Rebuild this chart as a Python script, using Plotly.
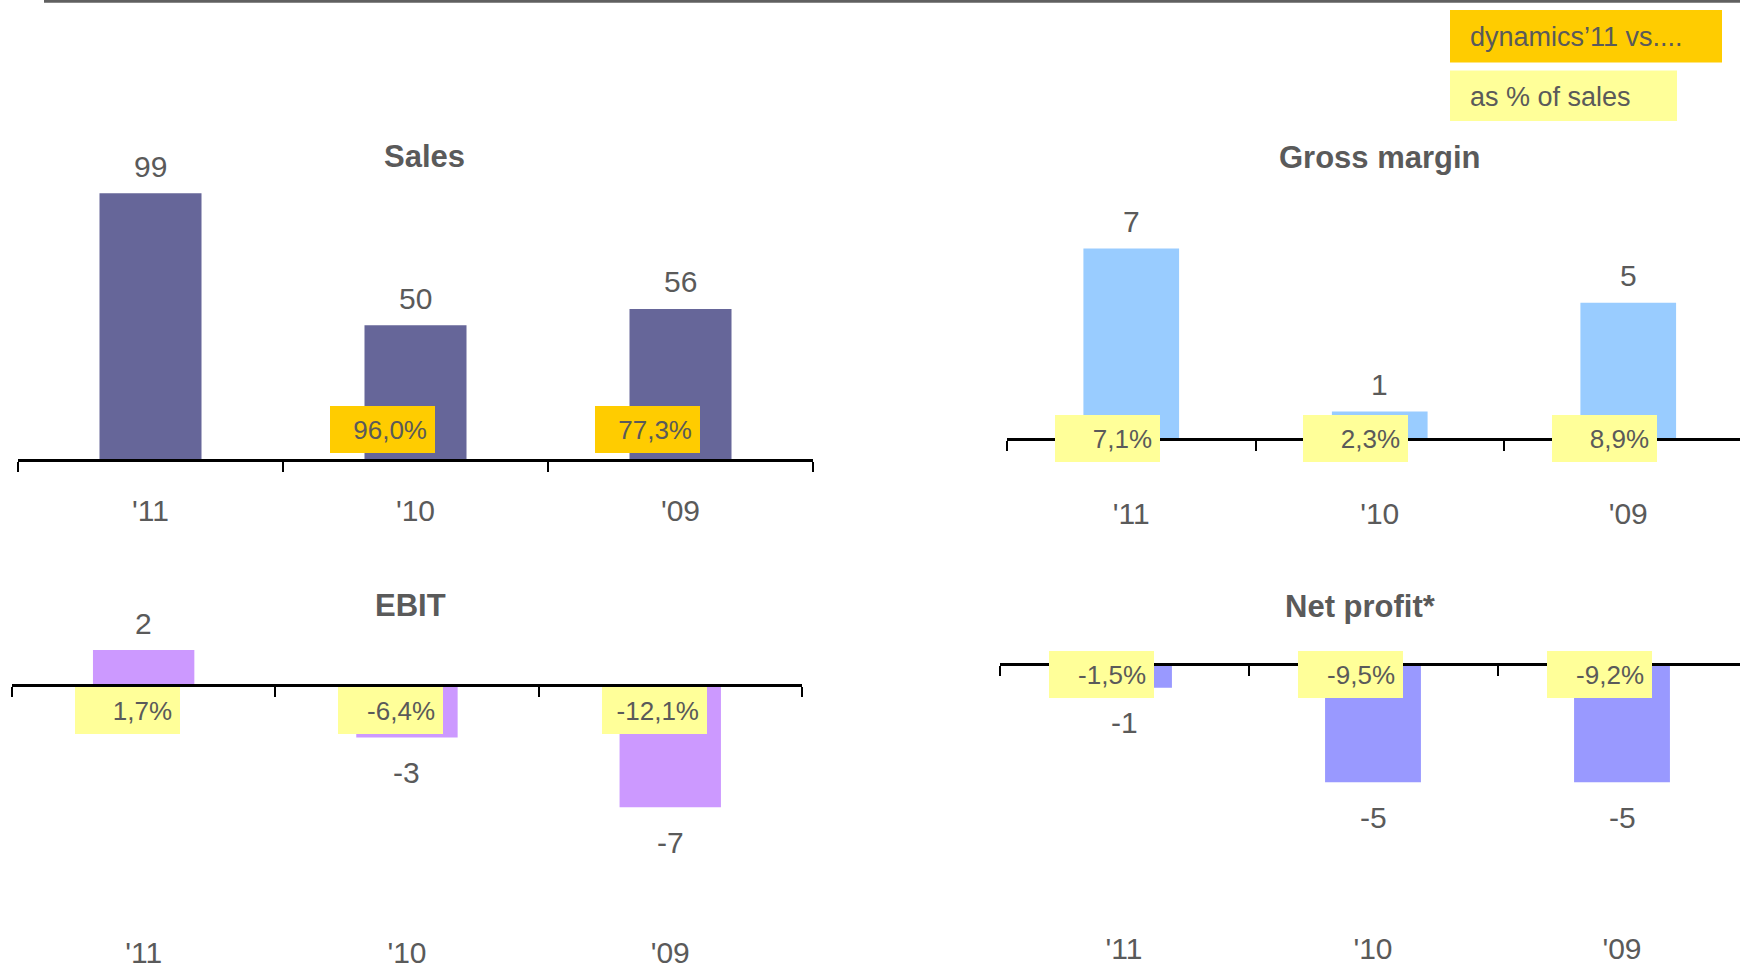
import plotly.graph_objects as go

# ---- data -------------------------------------------------------------
years = ["'11", "'10", "'09"]

sales = [99, 50, 56]
sales_dynamics = [None, 96.0, 77.3]      # growth '11 vs the given year, %

gross_margin = [7, 1, 5]
gross_margin_pct = [7.1, 2.3, 8.9]       # as % of sales

ebit = [2, -3, -7]
ebit_pct = [1.7, -6.4, -12.1]

net_profit = [-1, -5, -5]
net_profit_pct = [-1.5, -9.5, -9.2]

# ---- page geometry (pixels) ------------------------------------------
W, H = 1740, 969
FONT = "Liberation Sans, Arial, Helvetica, sans-serif"
GREY = "#5a5a5a"
ORANGE = "#FFCC00"
YELLOW = "#FFFF99"


def fx(px):
    return px / W


def fy(px):
    return 1 - px / H


def pct_text(v):
    return f"{v:.1f}".replace(".", ",") + "%"


panels = [
    dict(title="Sales", values=sales, pct=sales_dynamics, color="#666699", box=ORANGE,
         x0=18, step=265, zero=463, ppu=2.71, yrange=(0, 110),
         title_at=(424, 158), standoff=23, box_dx=-33, box_dy=30),
    dict(title="Gross margin", values=gross_margin, pct=gross_margin_pct, color="#99CCFF", box=YELLOW,
         x0=1007, step=248.5, zero=442, ppu=27.4, yrange=(-2, 9),
         title_at=(1380, 159), standoff=47, box_dx=-24, box_dy=0),
    dict(title="EBIT", values=ebit, pct=ebit_pct, color="#CC99FF", box=YELLOW,
         x0=12, step=263.3, zero=690, ppu=17.6, yrange=(-9, 4),
         title_at=(410, 610), standoff=240, box_dx=-16, box_dy=-25),
    dict(title="Net profit*", values=net_profit, pct=net_profit_pct, color="#9999FF", box=YELLOW,
         x0=999.5, step=249, zero=669, ppu=23.8, yrange=(-7, 3),
         title_at=(1360, 611), standoff=257, box_dx=-23, box_dy=-10),
]

fig = go.Figure()
layout = dict(
    width=W, height=H,
    margin=dict(l=0, r=0, t=0, b=0),
    paper_bgcolor="white", plot_bgcolor="white",
    showlegend=False,
    font=dict(family=FONT, color=GREY),
)
annotations = []
shapes = []

for i, p in enumerate(panels, start=1):
    xa, ya = f"x{i}", f"y{i}"
    n = len(years)
    x1 = min(p["x0"] + n * p["step"], W)
    xr = [-0.5, -0.5 + (x1 - p["x0"]) / p["step"]]
    ymin, ymax = p["yrange"]
    top_px = p["zero"] - ymax * p["ppu"]
    bot_px = p["zero"] - ymin * p["ppu"]

    fig.add_trace(go.Bar(
        x=years, y=p["values"], xaxis=xa, yaxis=ya,
        marker=dict(color=p["color"], line=dict(width=0)),
        width=0.385, hoverinfo="skip",
    ))

    layout[f"xaxis{i}"] = dict(
        domain=[fx(p["x0"]), fx(x1)], range=xr, type="category",
        anchor="free", position=fy(p["zero"]),
        showline=True, linecolor="black", linewidth=3,
        ticks="outside", tickson="boundaries", ticklen=10, tickwidth=2, tickcolor="black",
        ticklabelstandoff=p["standoff"],
        tickfont=dict(size=30, color=GREY, family=FONT),
        showgrid=False, zeroline=False, fixedrange=True,
    )
    layout[f"yaxis{i}"] = dict(
        domain=[fy(bot_px), fy(top_px)], range=[ymin, ymax], anchor=xa,
        visible=False, showgrid=False, zeroline=False, fixedrange=True,
    )

    # panel title
    annotations.append(dict(
        text=f"<b>{p['title']}</b>", xref="paper", yref="paper",
        x=fx(p["title_at"][0]), y=fy(p["title_at"][1]),
        xanchor="center", yanchor="middle", showarrow=False,
        font=dict(size=31, color=GREY, family=FONT),
    ))

    for cat, v, pc in zip(years, p["values"], p["pct"]):
        # value above / below the bar
        annotations.append(dict(
            text=f"{v:d}", x=cat, y=v, xref=xa, yref=ya,
            xanchor="center", yanchor="middle", showarrow=False,
            yshift=27 if v >= 0 else -35,
            font=dict(size=30, color=GREY, family=FONT),
        ))
        # percentage tag sitting on the axis line
        if pc is not None:
            annotations.append(dict(
                text=pct_text(pc), x=cat, y=0, xref=xa, yref=ya,
                xanchor="center", yanchor="middle", showarrow=False,
                xshift=p["box_dx"], yshift=p["box_dy"],
                width=89, height=31, borderpad=8, borderwidth=0,
                bgcolor=p["box"], align="right", valign="middle",
                font=dict(size=26, color=GREY, family=FONT),
            ))

# rule across the top of the page
shapes.append(dict(type="line", xref="paper", yref="paper",
                   x0=fx(44), x1=1, y0=fy(1.3), y1=fy(1.3),
                   line=dict(color="#606060", width=3)))

# key for the two kinds of tags
for (y0, y1, x1, color, label) in [
    (10, 63, 1722, ORANGE, "dynamics’11 vs...."),
    (71, 122, 1677, YELLOW, "as % of sales"),
]:
    shapes.append(dict(type="rect", xref="paper", yref="paper",
                       x0=fx(1450), x1=fx(x1), y0=fy(y1), y1=fy(y0),
                       fillcolor=color, line=dict(width=0), layer="below"))
    annotations.append(dict(
        text=label, xref="paper", yref="paper",
        x=fx(1468), y=fy((y0 + y1) / 2 + 1), xanchor="left", yanchor="middle",
        showarrow=False, font=dict(size=27, color=GREY, family=FONT),
    ))

layout["annotations"] = annotations
layout["shapes"] = shapes
fig.update_layout(**layout)

fig.write_html("out.html")
